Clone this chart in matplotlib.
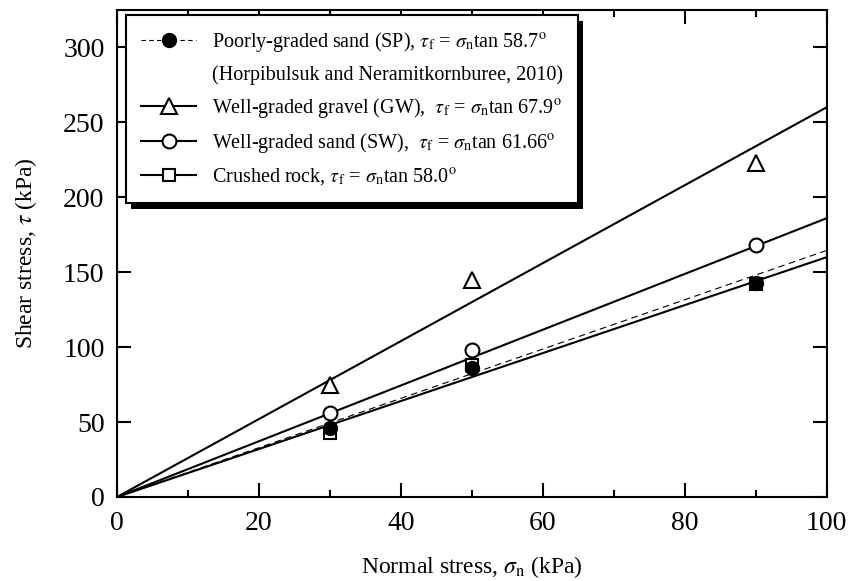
import matplotlib
matplotlib.use('Agg')
import matplotlib.pyplot as plt
from matplotlib.lines import Line2D
from matplotlib.patches import Rectangle

plt.rcParams['font.family'] = ['Liberation Serif', 'DejaVu Serif']
plt.rcParams['mathtext.fontset'] = 'stix'

# test points (normal stress, shear stress)
sigma_n = [30, 50, 90]
tau_sp = [46, 86, 143]     # poorly-graded sand (filled circle)
tau_gw = [75, 145, 223]    # well-graded gravel (triangle)
tau_sw = [56, 98, 168]     # well-graded sand (open circle)
tau_cr = [43, 88, 142]     # crushed rock (square)

# fitted failure envelopes, value at sigma_n = 100 kPa
fit_x = [0, 100]
fit_sp = [0, 164.5]
fit_gw = [0, 260]
fit_sw = [0, 186]
fit_cr = [0, 160]

labels = [
    r'Poorly-graded sand (SP), $\tau_{\rm f}$ = $\sigma_{\rm n}$tan 58.7$^{\rm o}$',
    '(Horpibulsuk and Neramitkornburee, 2010)',
    r'Well-graded gravel (GW),  $\tau_{\rm f}$ = $\sigma_{\rm n}$tan 67.9$^{\rm o}$',
    r'Well-graded sand (SW),  $\tau_{\rm f}$ = $\sigma_{\rm n}$tan 61.66$^{\rm o}$',
    r'Crushed rock, $\tau_{\rm f}$ = $\sigma_{\rm n}$tan 58.0$^{\rm o}$',
]

fig = plt.figure(figsize=(8.51, 5.81), dpi=100)
ax = fig.add_axes([0.1375, 0.1446, 0.834, 0.8385])

ax.plot(fit_x, fit_sp, color='k', lw=0.8, ls=(0, (6, 4)))
ax.plot(fit_x, fit_gw, color='k', lw=1.5)
ax.plot(fit_x, fit_sw, color='k', lw=1.5)
ax.plot(fit_x, fit_cr, color='k', lw=1.5)

ms = 10
ax.plot(sigma_n, tau_cr, ls='none', marker='s', ms=ms - 1, mfc='white', mec='k', mew=1.5)
ax.plot(sigma_n, tau_gw, ls='none', marker='^', ms=ms + 1, mfc='white', mec='k', mew=1.5)
ax.plot(sigma_n, tau_sw, ls='none', marker='o', ms=ms, mfc='white', mec='k', mew=1.5)
ax.plot(sigma_n, tau_sp, ls='none', marker='o', ms=ms, mfc='k', mec='k', mew=1.0)

ax.set_xlim(0, 100)
ax.set_ylim(0, 325)
ax.set_xticks([0, 20, 40, 60, 80, 100])
ax.set_xticks([10, 30, 50, 70, 90], minor=True)
ax.set_yticks([0, 50, 100, 150, 200, 250, 300])
ax.tick_params(which='both', direction='in', top=True, right=True, width=1.5, labelsize=20)
ax.tick_params(axis='x', pad=10)
ax.tick_params(axis='y', pad=9)
ax.tick_params(which='major', length=10)
ax.tick_params(which='minor', length=5)
for s in ax.spines.values():
    s.set_linewidth(1.5)

ax.set_xlabel(r'Normal stress, $\sigma_{\rm n}$ (kPa)', fontsize=17, labelpad=13)
ax.set_ylabel(r'Shear stress, $\tau$ (kPa)', fontsize=17, labelpad=17)

handles = [
    Line2D([], [], color='k', lw=0.8, ls=(0, (4, 3)), marker='o', ms=ms, mfc='k', mec='k'),
    Line2D([], [], color='none'),
    Line2D([], [], color='k', lw=1.5, marker='^', ms=ms + 1, mfc='white', mec='k', mew=1.5),
    Line2D([], [], color='k', lw=1.5, marker='o', ms=ms, mfc='white', mec='k', mew=1.5),
    Line2D([], [], color='k', lw=1.5, marker='s', ms=ms - 1, mfc='white', mec='k', mew=1.5),
]
leg = ax.legend(handles, labels, loc='upper left', bbox_to_anchor=(0.013, 0.989),
                borderaxespad=0, fontsize=14.5, handlelength=2.7, handletextpad=0.8,
                labelspacing=0.55, borderpad=0.75, fancybox=False, framealpha=1,
                edgecolor='k')
leg.get_frame().set_linewidth(1.5)

# black drop shadow under the legend box
fig.canvas.draw()
bb = leg.get_window_extent().transformed(ax.transAxes.inverted())
dx = 5 / (0.834 * 851)
dy = 6 / (0.8385 * 581)
ax.add_patch(Rectangle((bb.x0 + dx, bb.y0 - dy), bb.width, bb.height, transform=ax.transAxes,
                       facecolor='k', edgecolor='none', zorder=4.9, clip_on=False))

fig.savefig('out.png', dpi=100)
